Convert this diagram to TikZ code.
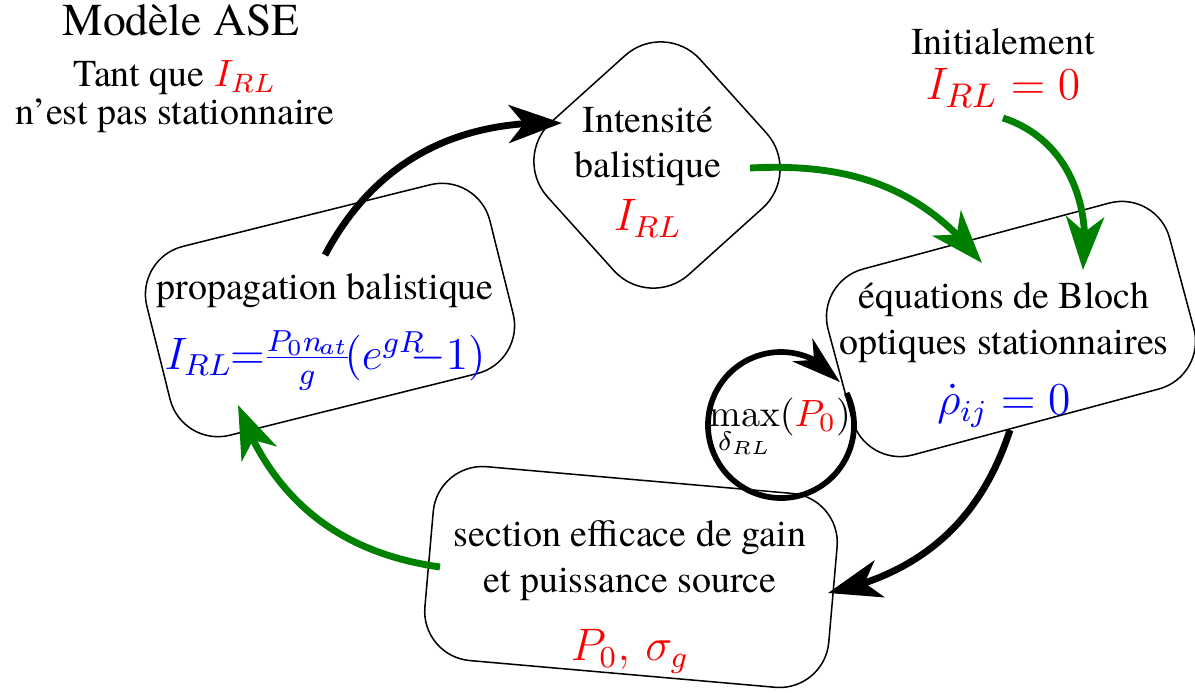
\documentclass[tikz,border=0pt]{standalone}
\usepackage[no-math]{fontspec}
\setmainfont{texgyretermes-regular.otf}
\usetikzlibrary{arrows.meta,bending}
\definecolor{Vert}{HTML}{008000}

\begin{document}
\begin{tikzpicture}[x=0.925cm,y=0.925cm,
    bloc/.style={draw,thin,rounded corners=13pt},
    fleche/.style={line width=1.8pt,-{Stealth[length=14pt,width=10pt,inset=4pt]}},
    lbl/.style={align=center}]
    \useasboundingbox (0,0) rectangle (11.95,6.92);
    % boites
    \node[bloc,rotate=42,minimum width=1.9cm,minimum height=1.9cm,rounded corners=14pt] (intBox) at (6.57,5.27) {};
    \node[bloc,rotate=14,minimum width=3.27cm,minimum height=1.8cm] (propBox) at (3.30,3.82) {};
    \node[bloc,rotate=15,minimum width=3.27cm,minimum height=1.78cm] (blochBox) at (10.11,3.63) {};
    \node[bloc,rotate=-5,minimum width=3.75cm,minimum height=1.8cm] (secBox) at (6.31,1.15) {};
    % textes
    \node[lbl] (titre) at (1.81,6.72) {\large Modèle ASE};
    \node[lbl] (tantque) at (1.75,5.95) {Tant que {\color{red}$I_{RL}$}\\[-2pt]n'est pas stationnaire};
    \node[lbl] (init) at (10.03,6.24) {Initialement\\{\fontsize{13}{15}\selectfont\color{red}$I_{RL}=0$}};
    \node[lbl] (intTxt) at (6.48,5.20) {Intensité\\balistique\\[2pt]{\large\color{red}$I_{RL}$}};
    \node[lbl] (propTxt) at (3.25,3.60) {propagation balistique\\[5pt]{\large\color{blue}$I_{RL}\mkern-6mu=\mkern-6mu\frac{P_0 n_{\mkern-2mu at}}{g}\mkern-3mu(e^{gR}\mkern-10mu-\mkern-4mu1)$}};
    \node[lbl] (blochTxt) at (10.04,3.37) {équations de Bloch\\optiques stationnaires\\[4pt]{\large\color{blue}$\dot\rho_{ij}=0$}};
    \node[lbl] (secTxt) at (6.30,0.95) {section efficace de gain\\et puissance source\\[6pt]{\large\color{red}$P_0,\,\sigma_g$}};
    \node[lbl] (maxTxt) at (7.80,2.64) {$\max\limits_{\delta_{RL}}(\textcolor{red}{P_0})$};
    % extremites des fleches
    \coordinate (propOut) at (3.25,4.37);
    \coordinate (intIn) at (5.62,5.69);
    \coordinate (intOut) at (7.50,5.24);
    \coordinate (blochInA) at (9.82,4.29);
    \coordinate (initOut) at (10.03,5.74);
    \coordinate (blochInB) at (10.83,4.22);
    \coordinate (blochOut) at (10.10,2.62);
    \coordinate (secIn) at (8.28,0.99);
    \coordinate (secOut) at (4.40,1.25);
    \coordinate (propIn) at (2.38,2.87);
    \coordinate (maxC) at (7.81,2.67);
    % cycle
    \draw[fleche] (propOut) to[out=62,in=178] (intIn);
    \draw[fleche,Vert] (intOut) to[out=3,in=128] (blochInA);
    \draw[fleche,Vert] (initOut) to[out=-18,in=82] (blochInB);
    \draw[fleche] (blochOut) to[out=-108,in=12] (secIn);
    \draw[fleche,Vert] (secOut) to[out=172,in=-70] (propIn);
    \draw[line width=1.5pt,-{Stealth[length=13pt,width=8pt,inset=4pt]}] ([shift={(26:0.73)}]maxC) arc[start angle=26,end angle=-324,radius=0.73];
\end{tikzpicture}
\end{document}
